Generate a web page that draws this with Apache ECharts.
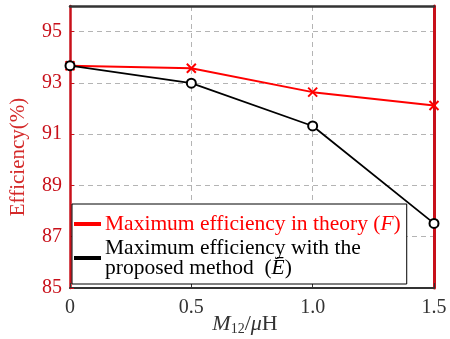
<!DOCTYPE html>
<html>
<head>
<meta charset="utf-8">
<script src="https://cdn.jsdelivr.net/npm/echarts@6/dist/echarts.min.js"></script>
<style>
  html, body { margin: 0; padding: 0; background: #fff; }
  #chart { width: 450px; height: 339px; }
</style>
</head>
<body>
<div id="chart"></div>
<script>
// Mutual inductance M12 (μH)
const mutualInductance = [0, 0.5, 1.0, 1.5];
// Maximum efficiency in theory (F), %
const theoryEfficiency = [93.67, 93.57, 92.64, 92.12];
// Maximum efficiency with the proposed method (E), %
const proposedEfficiency = [93.67, 92.99, 91.32, 87.52];
// Axis tick settings
const yTicks = { min: 85, max: 96, step: 2 };
const xTicks = { min: 0, max: 1.5, step: 0.5 };

const FONT = '"Liberation Serif", "Times New Roman", serif';
const RED = '#ff0000';
const DARK_RED = '#c8101a';
const LEGEND_SIZE = 21.5;
const LEGEND_LINE = 20;

const chart = echarts.init(document.getElementById('chart'), null, { renderer: 'canvas' });

const crossPath = 'path://M0,0L10,10M10,0L0,10';

function legendStyle(color, italic) {
  return {
    color: color,
    fontFamily: FONT,
    fontSize: LEGEND_SIZE,
    lineHeight: LEGEND_LINE,
    fontStyle: italic ? 'italic' : 'normal'
  };
}

chart.setOption({
  animation: false,
  backgroundColor: '#fff',
  grid: { left: 70, right: 16, top: 6, bottom: 51, outerBoundsMode: 'none', containLabel: false },
  legend: {
    left: 72,
    top: 204,
    orient: 'vertical',
    icon: 'rect',
    itemWidth: 25,
    itemHeight: 2,
    itemGap: 2,
    padding: [9, 6, 5, 2],
    backgroundColor: '#fff',
    borderColor: '#000',
    borderWidth: 1,
    borderRadius: 0,
    textStyle: {
      fontFamily: FONT,
      fontSize: LEGEND_SIZE,
      lineHeight: LEGEND_LINE,
      rich: {
        ra: legendStyle(RED, false),
        ri: legendStyle(RED, true),
        ba: legendStyle('#000', false),
        bi: legendStyle('#000', true)
      }
    },
    formatter: function (name) {
      if (name === 'theory') {
        return '{ra|Maximum efficiency in theory (}{ri|F}{ra|)}';
      }
      return '{ba|Maximum efficiency with the}\n{ba|proposed method  (}{bi|Ē}{ba|)}';
    },
    data: ['theory', 'proposed']
  },
  xAxis: [
    {
      type: 'value',
      min: xTicks.min,
      max: xTicks.max,
      interval: xTicks.step,
      name: '{m|M}{s|12}{n|/}{m|μ}{n|H}',
      nameLocation: 'middle',
      nameGap: 24,
      nameMoveOverlap: false,
      nameTextStyle: {
        padding: [0, 14, 0, 0],
        rich: {
          m: { fontFamily: FONT, fontSize: 22, fontStyle: 'italic', color: '#333' },
          s: { fontFamily: FONT, fontSize: 14, color: '#333', verticalAlign: 'bottom', padding: [10, 0, 0, 0] },
          n: { fontFamily: FONT, fontSize: 22, color: '#333' }
        }
      },
      axisLine: { show: true, onZero: false, lineStyle: { color: '#333', width: 2 } },
      axisTick: { show: true, inside: true, length: 5, lineStyle: { color: '#333' } },
      axisLabel: {
        color: '#333',
        fontFamily: FONT,
        fontSize: 20,
        margin: 10,
        formatter: function (v) { return v === 0 ? '0' : v.toFixed(1); }
      },
      splitLine: { show: true, lineStyle: { color: '#b4b4b4', type: [5, 4], width: 1 } }
    },
    {
      type: 'value',
      position: 'top',
      min: xTicks.min,
      max: xTicks.max,
      interval: xTicks.step,
      axisLine: { show: true, onZero: false, lineStyle: { color: '#333', width: 2.5 } },
      axisTick: { show: false },
      axisLabel: { show: false },
      splitLine: { show: false }
    }
  ],
  yAxis: [
    {
      type: 'value',
      min: yTicks.min,
      max: yTicks.max,
      interval: yTicks.step,
      name: 'Efficiency(%)',
      nameLocation: 'middle',
      nameGap: 41,
      nameTextStyle: { color: '#d42a2a', fontFamily: FONT, fontSize: 21, padding: [0, 20, 0, 0] },
      axisLine: { show: true, onZero: false, lineStyle: { color: DARK_RED, width: 2.5 } },
      axisTick: { show: true, inside: true, length: 4, lineStyle: { color: DARK_RED } },
      axisLabel: {
        color: DARK_RED,
        fontFamily: FONT,
        fontSize: 20,
        margin: 8,
        showMaxLabel: false
      },
      splitLine: { show: true, lineStyle: { color: '#b4b4b4', type: [5, 4], width: 1 } }
    },
    {
      type: 'value',
      position: 'right',
      min: yTicks.min,
      max: yTicks.max,
      interval: yTicks.step,
      axisLine: { show: true, onZero: false, lineStyle: { color: DARK_RED, width: 3 } },
      axisTick: { show: false },
      axisLabel: { show: false },
      splitLine: { show: false }
    }
  ],
  series: [
    {
      name: 'theory',
      type: 'line',
      data: mutualInductance.map((x, i) => [x, theoryEfficiency[i]]),
      color: RED,
      lineStyle: { color: RED, width: 2 },
      symbol: crossPath,
      symbolSize: 9,
      itemStyle: { color: RED, borderColor: RED, borderWidth: 2 },
      z: 3
    },
    {
      name: 'proposed',
      type: 'line',
      data: mutualInductance.map((x, i) => [x, proposedEfficiency[i]]),
      color: '#000',
      lineStyle: { color: '#000', width: 1.8 },
      symbol: 'emptyCircle',
      symbolSize: 9,
      itemStyle: { color: '#000', borderColor: '#000', borderWidth: 1.6 },
      z: 4
    }
  ]
});
</script>
</body>
</html>
